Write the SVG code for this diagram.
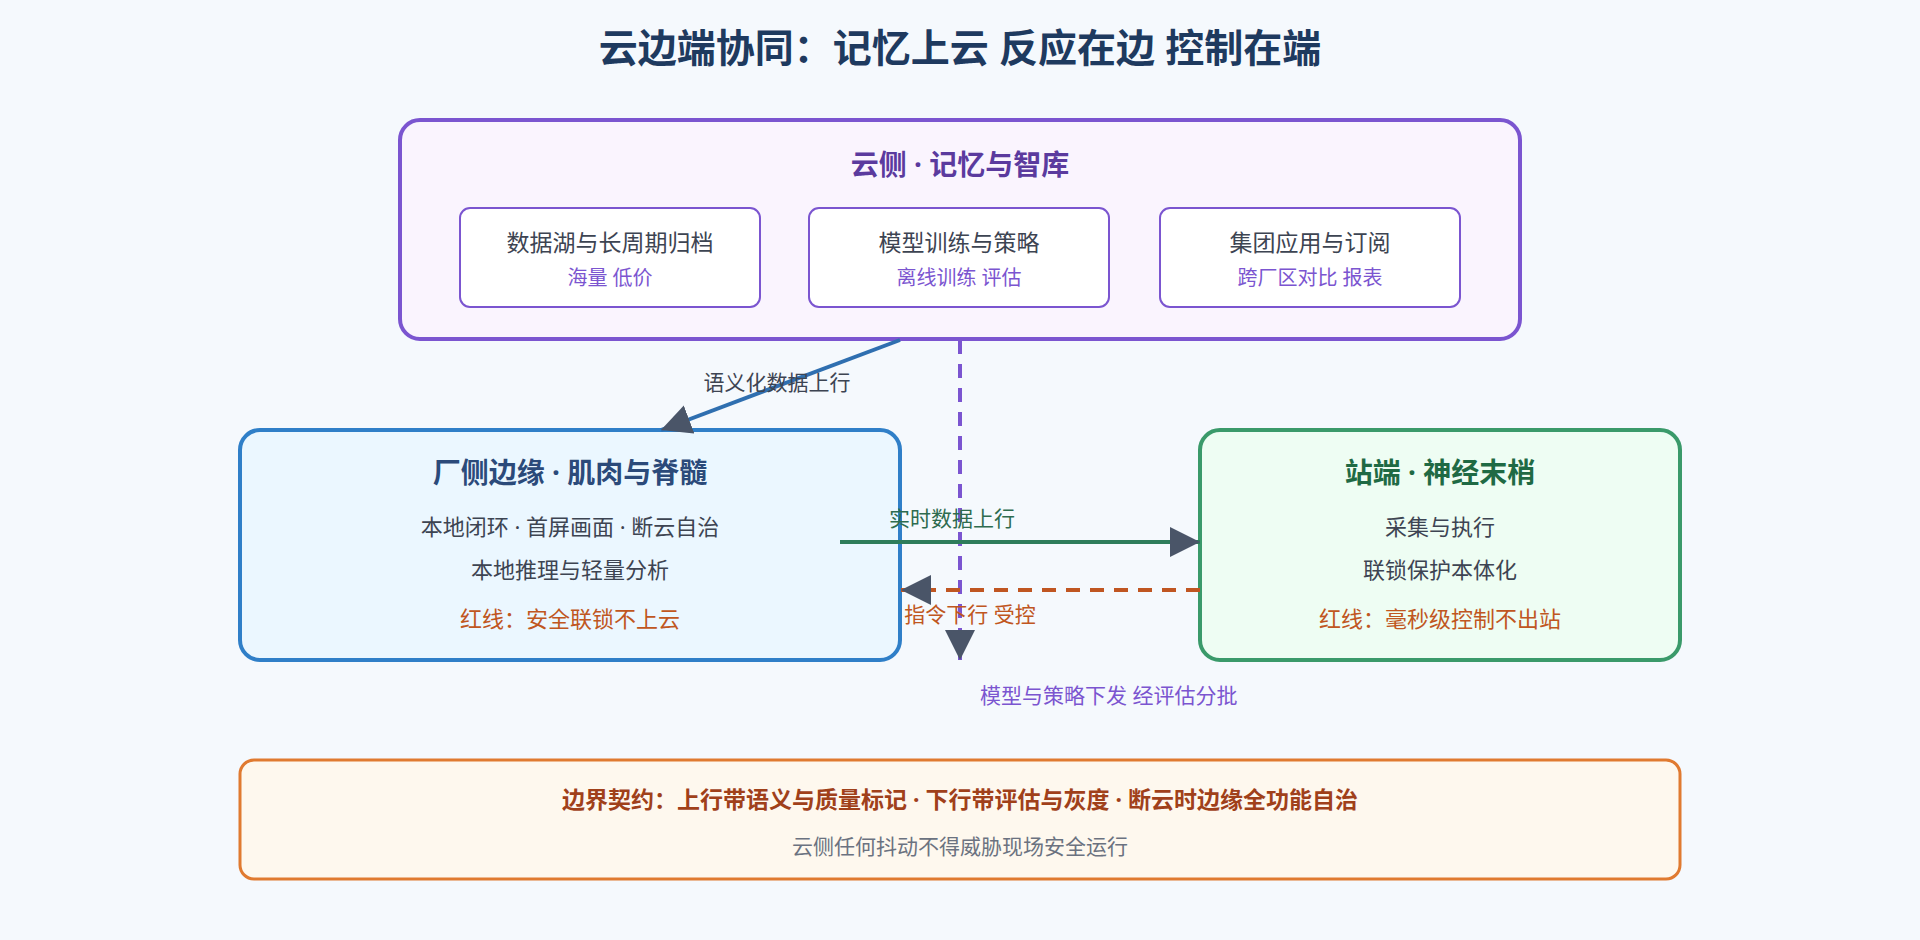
<svg xmlns="http://www.w3.org/2000/svg" width="1920" height="940" viewBox="0 0 1920 940">
<style>
text{font-family:"Noto Sans","Noto Sans CJK SC",sans-serif;text-anchor:middle;dominant-baseline:middle}
.t{font-size:23px;fill:#3d4452}
.s{font-size:20px;fill:#7b55d0}
.h{font-size:28px;font-weight:bold}
.l{font-size:22px;fill:#3d4452}
.r{font-size:22px;fill:#c05621}
.sub{fill:#fff;stroke:#7b55d0;stroke-width:2}
</style>
<defs>
<marker id="a" viewBox="0 0 10 10" refX="10" refY="5" markerWidth="30" markerHeight="30" markerUnits="userSpaceOnUse" orient="auto"><path d="M0,0L10,5L0,10z" fill="#4a5568"/></marker>
</defs>
<rect width="1920" height="940" fill="#f5f9fd"/>
<text x="960" y="51" style="font-size:39px;font-weight:bold;fill:#1e3a5f">云边端协同：记忆上云 反应在边 控制在端</text>
<g id="cloud">
<rect x="400" y="120" width="1120" height="219" rx="20" fill="#faf4fe" stroke="#7b55d0" stroke-width="4"/>
<text x="960" y="167" class="h" fill="#5b3a9e">云侧 · 记忆与智库</text>
</g>
<g id="c1"><rect class="sub" x="460" y="208" width="300" height="99" rx="10"/><text x="610" y="245" class="t">数据湖与长周期归档</text><text x="610" y="280" class="s">海量 低价</text></g>
<g id="c2"><rect class="sub" x="809" y="208" width="300" height="99" rx="10"/><text x="959" y="245" class="t">模型训练与策略</text><text x="959" y="280" class="s">离线训练 评估</text></g>
<g id="c3"><rect class="sub" x="1160" y="208" width="300" height="99" rx="10"/><text x="1310" y="245" class="t">集团应用与订阅</text><text x="1310" y="280" class="s">跨厂区对比 报表</text></g>
<g id="edge">
<rect x="240" y="430" width="660" height="230" rx="20" fill="#ebf7ff" stroke="#2f7fc8" stroke-width="4"/>
<text x="570" y="475" class="h" fill="#2b4a7a">厂侧边缘 · 肌肉与脊髓</text>
<text x="570" y="529" class="l">本地闭环 · 首屏画面 · 断云自治</text>
<text x="570" y="572" class="l">本地推理与轻量分析</text>
<text x="570" y="621" class="r">红线：安全联锁不上云</text>
</g>
<g id="station">
<rect x="1200" y="430" width="480" height="230" rx="20" fill="#eefdf3" stroke="#3a9a6a" stroke-width="4"/>
<text x="1440" y="475" class="h" fill="#1f6a44">站端 · 神经末梢</text>
<text x="1440" y="529" class="l">采集与执行</text>
<text x="1440" y="572" class="l">联锁保护本体化</text>
<text x="1440" y="621" class="r">红线：毫秒级控制不出站</text>
</g>
<g id="contract">
<rect x="240" y="760" width="1440" height="119" rx="14" fill="#fef8ee" stroke="#e07a30" stroke-width="3"/>
<text x="960" y="802" style="font-size:23px;font-weight:bold;fill:#a0401a">边界契约：上行带语义与质量标记 · 下行带评估与灰度 · 断云时边缘全功能自治</text>
<text x="960" y="848" style="font-size:21px;fill:#6b7280">云侧任何抖动不得威胁现场安全运行</text>
</g>
<g id="connectors">
<line x1="900" y1="340" x2="661" y2="430" stroke="#2f6fb0" stroke-width="4" marker-end="url(#a)"/>
<line x1="960" y1="340" x2="960" y2="660" stroke="#7b55d0" stroke-width="4" stroke-dasharray="14,10" marker-end="url(#a)"/>
<line x1="840" y1="542" x2="1200" y2="542" stroke="#2e7d5b" stroke-width="4" marker-end="url(#a)"/>
<line x1="1200" y1="590" x2="901" y2="590" stroke="#c05621" stroke-width="4" stroke-dasharray="14,10" marker-end="url(#a)"/>
<text x="777" y="384" style="font-size:21px;fill:#3d4452">语义化数据上行</text>
<text x="952" y="520" style="font-size:21px;fill:#2e6b4f">实时数据上行</text>
<text x="970" y="616" style="font-size:21px;fill:#c05621">指令下行 受控</text>
<text x="980" y="697" style="font-size:21px;fill:#7b55d0;text-anchor:start">模型与策略下发 经评估分批</text>
</g>
</svg>
